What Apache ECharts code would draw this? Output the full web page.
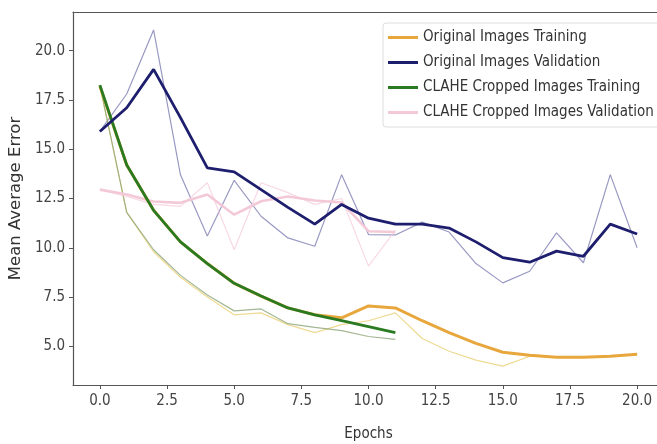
<!DOCTYPE html>
<html>
<head>
<meta charset="utf-8">
<script src="https://cdn.jsdelivr.net/npm/echarts@6/dist/echarts.min.js"></script>
<style>
  html, body { margin: 0; padding: 0; background: #fff; }
  #chart { width: 657px; height: 444px; }
</style>
</head>
<body>
<div id="chart"></div>
<script>
// epochs for each run
const epochsFull = [0,1,2,3,4,5,6,7,8,9,10,11,12,13,14,15,16,17,18,19,20];
const epochsShort = [0,1,2,3,4,5,6,7,8,9,10,11];

// smoothed curves (thick)
const origTrain = [18.2,14.2,11.9,10.3,9.2,8.2,7.55,6.95,6.6,6.45,7.05,6.95,6.3,5.7,5.15,4.7,4.55,4.45,4.45,4.5,4.6];
const origVal = [15.9,17.1,19.05,16.6,14.05,13.85,12.95,12.05,11.2,12.2,11.5,11.2,11.2,11.0,10.3,9.5,9.27,9.83,9.57,11.2,10.7];
const claheTrain = [18.25,14.2,11.9,10.3,9.2,8.2,7.55,6.95,6.6,6.3,6.0,5.7];
const claheVal = [12.95,12.7,12.35,12.28,12.7,11.68,12.36,12.6,12.4,12.3,10.84,10.8];

// raw curves (thin)
const origTrainRaw = [18.2,11.8,9.8,8.5,7.5,6.6,6.7,6.1,5.7,6.1,6.3,6.7,5.4,4.75,4.3,4.0,4.5,4.45,4.45,4.5,4.6];
const origValRaw = [15.9,17.8,21.05,13.7,10.6,13.42,11.6,10.5,10.08,13.71,10.67,10.65,11.3,10.8,9.2,8.22,8.81,10.76,9.24,13.71,10.0];
const claheTrainRaw = [18.25,11.8,9.9,8.6,7.6,6.8,6.9,6.15,5.96,5.8,5.5,5.35];
const claheValRaw = [12.95,12.6,12.2,12.1,13.3,9.9,13.3,12.8,12.2,12.5,9.07,10.9];

const xTicks = [0,2.5,5,7.5,10,12.5,15,17.5,20];
const yTicks = [5,7.5,10,12.5,15,17.5,20];

const names = [
  'Original Images Training',
  'Original Images Validation',
  'CLAHE Cropped Images Training',
  'CLAHE Cropped Images Validation'
];

function pairs(xs, ys) {
  return ys.map((v, i) => [xs[i], v]);
}

function line(name, xs, ys, color, width, z) {
  return {
    name: name,
    type: 'line',
    data: pairs(xs, ys),
    symbol: 'none',
    z: z,
    lineStyle: { color: color, width: width },
    itemStyle: { color: color },
    emphasis: { disabled: true }
  };
}

const chart = echarts.init(document.getElementById('chart'));
const cond = '"DejaVu Sans Condensed", "DejaVu Sans", sans-serif';
const spine = { show: true, onZero: false, lineStyle: { color: '#555', width: 1.2 } };

chart.setOption({
  animation: false,
  textStyle: { fontFamily: cond },
  grid: {
    left: 73, top: 12, width: 591, height: 373,
    outerBoundsMode: 'none',
    containLabel: false
  },
  legend: {
    data: names,
    orient: 'vertical',
    left: 383, top: 23,
    itemWidth: 30, itemHeight: 3,
    itemGap: 8,
    padding: [6, 16, 6, 5],
    borderColor: '#ddd', borderWidth: 1, borderRadius: 3,
    backgroundColor: 'rgba(255,255,255,0.85)',
    icon: 'rect',
    textStyle: { fontFamily: cond, fontSize: 15, lineHeight: 17, color: '#333' }
  },
  xAxis: [{
    type: 'value',
    min: -1, max: 21,
    name: 'Epochs',
    nameLocation: 'middle',
    nameGap: 42,
    nameTextStyle: { fontFamily: cond, fontSize: 15, color: '#333' },
    splitLine: { show: false },
    axisLine: spine,
    axisTick: { show: true, length: 4, customValues: xTicks, lineStyle: { color: '#555' } },
    axisLabel: { customValues: xTicks, formatter: v => v.toFixed(1), fontFamily: cond, fontSize: 15, color: '#444', margin: 9 }
  }, {
    // top spine only
    type: 'value',
    position: 'top',
    min: -1, max: 21,
    splitLine: { show: false },
    axisLine: spine,
    axisTick: { show: false },
    axisLabel: { show: false }
  }],
  yAxis: {
    type: 'value',
    min: 3.04, max: 21.96,
    name: 'Mean Average Error',
    nameLocation: 'middle',
    nameGap: 47,
    nameTextStyle: { fontFamily: '"DejaVu Sans", sans-serif', fontSize: 16.5, color: '#333' },
    splitLine: { show: false },
    axisLine: spine,
    axisTick: { show: true, length: 4, customValues: yTicks, lineStyle: { color: '#555' } },
    axisLabel: { customValues: yTicks, formatter: v => v.toFixed(1), fontFamily: cond, fontSize: 15, color: '#444', margin: 8 }
  },
  series: [
    line('raw1', epochsFull, origTrainRaw, 'rgba(232,205,110,0.75)', 1.2, 1),
    line('raw2', epochsFull, origValRaw, 'rgba(110,110,170,0.7)', 1.2, 1),
    line('raw3', epochsShort, claheTrainRaw, 'rgba(140,165,120,0.8)', 1.2, 1),
    line('raw4', epochsShort, claheValRaw, 'rgba(245,200,220,0.7)', 1.2, 1),
    line(names[3], epochsShort, claheVal, '#f3c9d8', 2.6, 2),
    line(names[0], epochsFull, origTrain, '#e8a73c', 3, 3),
    line(names[2], epochsShort, claheTrain, '#2a7a22', 2.8, 4),
    line(names[1], epochsFull, origVal, '#1e1e6e', 2.8, 5)
  ]
});
</script>
</body>
</html>
